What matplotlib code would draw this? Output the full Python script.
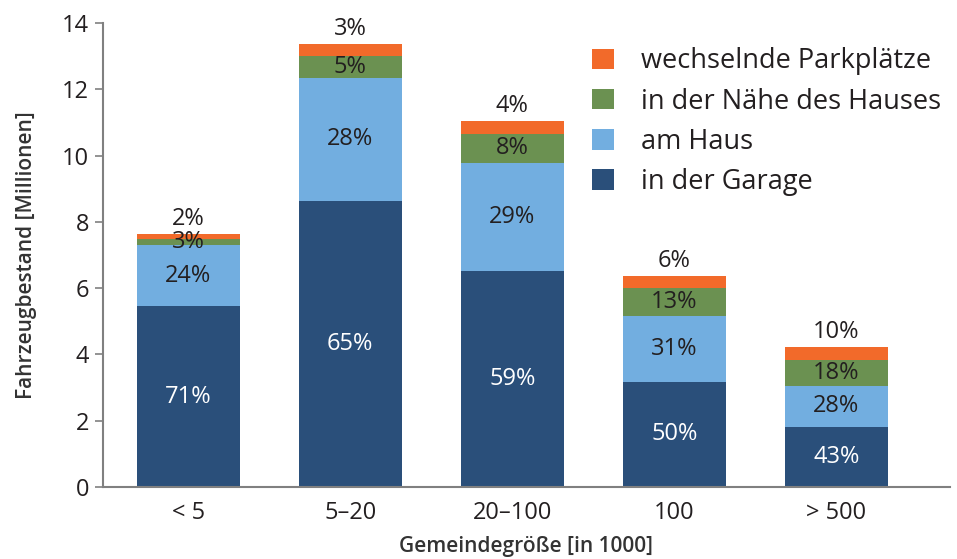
import matplotlib.pyplot as plt
import numpy as np

plt.rcParams['font.family'] = ['Open Sans', 'DejaVu Sans']

categories = ["< 5", "5–20", "20–100", "100", "> 500"]
series = ["in der Garage", "am Haus", "in der Nähe des Hauses", "wechselnde Parkplätze"]

# segment heights in millions
garage = [5.46, 8.63, 6.52, 3.17, 1.81]
am_haus = [1.84, 3.71, 3.26, 1.99, 1.24]
naehe = [0.18, 0.66, 0.87, 0.84, 0.78]
wechselnd = [0.15, 0.37, 0.39, 0.37, 0.39]

# percentage labels
pct_garage = ["71%", "65%", "59%", "50%", "43%"]
pct_haus = ["24%", "28%", "29%", "31%", "28%"]
pct_naehe = ["3%", "5%", "8%", "13%", "18%"]
pct_wechsel = ["2%", "3%", "4%", "6%", "10%"]

colors = ["#2A4F7A", "#72AEE0", "#6B9151", "#F26A2A"]
text_dark = "#231F20"

fig = plt.figure(figsize=(9.57, 5.59), dpi=100)
ax = fig.add_axes([0.1076, 0.1288, 0.885, 0.8301])

x = np.arange(len(categories))
width = 0.636
data = [garage, am_haus, naehe, wechselnd]
labels = [pct_garage, pct_haus, pct_naehe, pct_wechsel]

bottom = np.zeros(len(categories))
bars = []
for i, (vals, col, name, labs) in enumerate(zip(data, colors, series, labels)):
    vals = np.array(vals)
    b = ax.bar(x, vals, width, bottom=bottom, color=col, label=name)
    bars.append(b)
    for xi, bt, v, lab in zip(x, bottom, vals, labs):
        if i == 3:
            # top segment: label sits above the bar
            ax.text(xi, bt + v + 0.08, lab, ha="center", va="bottom",
                    fontsize=17, color=text_dark)
        else:
            c = "white" if i == 0 else text_dark
            ax.text(xi, bt + v / 2, lab, ha="center", va="center",
                    fontsize=17, color=c)
    bottom += vals

ax.set_xlim(-0.525, 4.70)
ax.set_ylim(0, 14)
ax.set_yticks(range(0, 15, 2))
ax.set_xticks(x)
ax.set_xticklabels(categories)

for s in ["top", "right"]:
    ax.spines[s].set_visible(False)
ax.spines["left"].set_color("#808080")
ax.spines["bottom"].set_color("#808080")
ax.spines["left"].set_linewidth(1.5)
ax.spines["bottom"].set_linewidth(1.5)
ax.tick_params(axis="y", length=6, width=1.2, color="#808080", labelsize=17,
               labelcolor=text_dark, pad=4)
ax.tick_params(axis="x", length=0, labelsize=17, labelcolor=text_dark, pad=10)

ax.set_xlabel("Gemeindegröße [in 1000]", fontsize=15, fontweight="semibold",
              color="#333333", labelpad=8)
ax.set_ylabel("Fahrzeugbestand [Millionen]", fontsize=15, fontweight="semibold",
              color="#333333", labelpad=18)

handles = bars[::-1]
leg = ax.legend(handles, series[::-1], loc="upper right", bbox_to_anchor=(1.018, 1.0),
                frameon=False, fontsize=19.5, handlelength=0.8, handleheight=0.8,
                handletextpad=1.0, labelspacing=0.45, labelcolor=text_dark)

fig.savefig("out.png", dpi=100)
